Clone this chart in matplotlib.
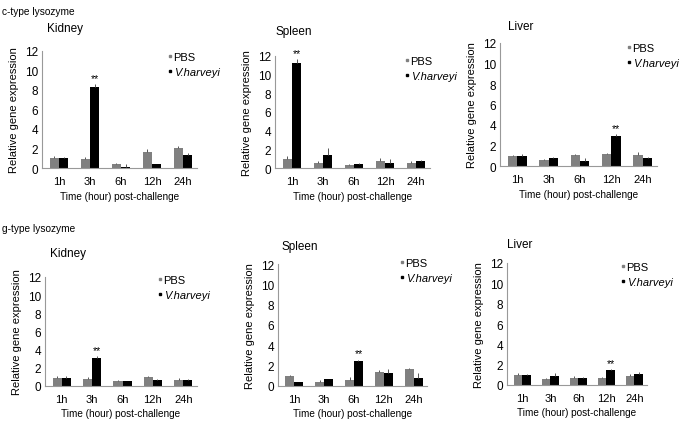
import matplotlib.pyplot as plt
import numpy as np
from matplotlib.lines import Line2D

plt.rcParams['font.family'] = ['Liberation Sans', 'DejaVu Sans']

times = ['1h', '3h', '6h', '12h', '24h']
organs = ['Kidney', 'Spleen', 'Liver']

# c-type lysozyme
c_pbs = [[1.0, 0.95, 0.45, 1.6, 2.05], [1.0, 0.55, 0.35, 0.8, 0.55], [1.0, 0.6, 1.05, 1.2, 1.1]]
c_pbs_err = [[0.25, 0.2, 0.05, 0.3, 0.2], [0.25, 0.25, 0.1, 0.25, 0.2], [0.1, 0.1, 0.1, 0.1, 0.3]]
c_vh = [[1.0, 8.35, 0.15, 0.4, 1.35], [11.3, 1.35, 0.45, 0.5, 0.7], [1.0, 0.8, 0.5, 2.9, 0.8]]
c_vh_err = [[0.15, 0.25, 0.25, 0.05, 0.2], [0.4, 0.8, 0.1, 0.5, 0.2], [0.15, 0.1, 0.3, 0.2, 0.1]]
c_sig = [1, 0, 3]

# g-type lysozyme
g_pbs = [[0.9, 0.8, 0.5, 0.95, 0.7], [0.95, 0.35, 0.55, 1.4, 1.7], [1.0, 0.55, 0.7, 0.7, 0.9]]
g_pbs_err = [[0.2, 0.2, 0.2, 0.1, 0.15], [0.1, 0.25, 0.3, 0.2, 0.1], [0.2, 0.15, 0.15, 0.1, 0.15]]
g_vh = [[0.9, 3.1, 0.5, 0.65, 0.7], [0.35, 0.65, 2.5, 1.3, 0.75], [1.0, 0.85, 0.7, 1.45, 1.1]]
g_vh_err = [[0.2, 0.15, 0.05, 0.1, 0.1], [0.05, 0.05, 0.1, 0.4, 0.5], [0.1, 0.3, 0.05, 0.1, 0.15]]
g_sig = [1, 2, 3]

W, H = 683, 427
fig = plt.figure(figsize=(W / 100, H / 100), dpi=100)

# axes boxes in pixels: x0, x1, y at 12, y at 0
boxes = [
    [(42, 197, 52, 169), (275, 430, 57, 169), (500, 657, 44, 167)],
    [(45, 197, 278, 387), (278, 427, 265, 387), (507, 647, 264, 386)],
]
titles_px = [[(47, 29), (275, 32), (508, 27)], [(50, 254), (282, 247), (507, 245)]]
legend_px = [[(168, 60), (405, 64), (627, 51)], [(158, 283), (400, 266), (621, 270)]]

def fx(x):
    return x / W

def fy(y):
    return 1 - y / H

gray = '#808080'
rows = [(c_pbs, c_pbs_err, c_vh, c_vh_err, c_sig), (g_pbs, g_pbs_err, g_vh, g_vh_err, g_sig)]
x = np.arange(len(times))
bw = 0.3

for r, (pbs, pe, vh, ve, sig) in enumerate(rows):
    for i, organ in enumerate(organs):
        x0, x1, yt, yb = boxes[r][i]
        ax = fig.add_axes([fx(x0), fy(yb), (x1 - x0) / W, (yb - yt) / H])
        ax.bar(x - bw / 2, pbs[i], bw, color=gray, yerr=[np.zeros(5), pe[i]],
               error_kw=dict(ecolor='#555555', elinewidth=0.7, capsize=0))
        ax.bar(x + bw / 2, vh[i], bw, color='black', yerr=[np.zeros(5), ve[i]],
               error_kw=dict(ecolor='#555555', elinewidth=0.7, capsize=0))
        k = sig[i]
        ax.text(k + bw / 2, vh[i][k] + ve[i][k] + 0.1, '**', ha='center', va='bottom', fontsize=7.5)
        ax.set_xlim(-0.55, 4.45)
        ax.set_ylim(0, 12)
        ax.set_yticks([0, 2, 4, 6, 8, 10, 12])
        ax.set_xticks(x)
        ax.set_xticklabels(times)
        ax.tick_params(length=0, pad=3)
        ax.tick_params(axis='y', labelsize=8.5)
        ax.tick_params(axis='x', labelsize=8, pad=6)
        for s in ['top', 'right']:
            ax.spines[s].set_visible(False)
        for s in ['left', 'bottom']:
            ax.spines[s].set_color('#999999')
            ax.spines[s].set_linewidth(0.8)
        ax.set_ylabel('Relative gene expression', fontsize=8, labelpad=4)
        ax.set_xlabel('Time (hour) post-challenge', fontsize=7.2, labelpad=3)
        tx, ty = titles_px[r][i]
        fig.text(fx(tx), fy(ty), organ, fontsize=8.5, ha='left', va='center')
        lx, ly = legend_px[r][i]
        handles = [Line2D([], [], ls='none', marker='s', ms=1.5, color=gray),
                   Line2D([], [], ls='none', marker='s', ms=1.5, color='black')]
        leg = ax.legend(handles, ['PBS', 'V.harveyi'], loc='upper left',
                        bbox_to_anchor=(fx(lx), fy(ly - 7)), bbox_transform=fig.transFigure,
                        frameon=False, fontsize=8, handlelength=0.3,
                        handletextpad=0.2, borderpad=0, borderaxespad=0, labelspacing=0.45)
        leg.get_texts()[1].set_fontstyle('italic')

fig.text(fx(2), fy(12), 'c-type lysozyme', fontsize=7.3, ha='left', va='center')
fig.text(fx(2), fy(229), 'g-type lysozyme', fontsize=7.3, ha='left', va='center')

fig.savefig('out.png', dpi=100)
